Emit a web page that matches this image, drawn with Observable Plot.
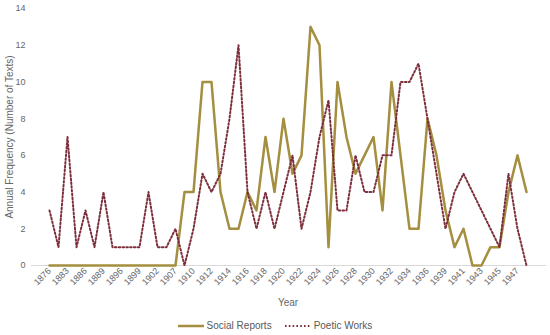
<!DOCTYPE html>
<html>
<head>
<meta charset="utf-8">
<script src="https://cdn.jsdelivr.net/npm/d3@7"></script>
<script src="https://cdn.jsdelivr.net/npm/@observablehq/plot@0.6"></script>
<style>
  html, body { margin: 0; padding: 0; background: #fff; }
  #chart { width: 550px; }
  .legend { display: flex; justify-content: center; align-items: center; gap: 13px;
    font-family: "Liberation Sans", Arial, sans-serif; font-size: 10px; color: #595959;
    height: 23px; padding-top: 2px; }
  .legend .item { display: flex; align-items: center; gap: 3px; }
</style>
</head>
<body>
<div id="chart"></div>
<script>
const years = [1876, 1880, 1883, 1884, 1886, 1887, 1889, 1893, 1896, 1897, 1899, 1900, 1902, 1905, 1907, 1909,
  1910, 1911, 1912, 1913, 1914, 1915, 1916, 1917, 1918, 1919, 1920, 1921, 1922, 1923, 1924, 1925, 1926, 1927,
  1928, 1929, 1930, 1931, 1932, 1933, 1934, 1935, 1936, 1937, 1939, 1940, 1941, 1942, 1943, 1944, 1945, 1946, 1947, 1948];
const socialReports = [0, 0, 0, 0, 0, 0, 0, 0, 0, 0, 0, 0, 0, 0, 0, 4,
  4, 10, 10, 4, 2, 2, 4, 3, 7, 4, 8, 5, 6, 13, 12, 1, 10, 7,
  5, 6, 7, 3, 10, 6, 2, 2, 8, 6, 3, 1, 2, 0, 0, 1, 1, 4, 6, 4];
const poeticWorks = [3, 1, 7, 1, 3, 1, 4, 1, 1, 1, 1, 4, 1, 1, 2, 0,
  2, 5, 4, 5, 8, 12, 4, 2, 4, 2, 4, 6, 2, 4, 7, 9, 3, 3,
  6, 4, 4, 6, 6, 10, 10, 11, 8, 5, 2, 4, 5, 4, 3, 2, 1, 5, 2, 0];
const seriesNames = ["Social Reports", "Poetic Works"];
const seriesColors = ["#a48e3f", "#7d2f3c"];
const yTicks = [0, 2, 4, 6, 8, 10, 12, 14];
const yLabel = "Annual Frequency (Number of Texts)";
const xLabel = "Year";

const yearLabels = years.map(String);
const xTicks = yearLabels.filter((d, i) => i % 2 === 0);
const social = yearLabels.map((y, i) => ({year: y, value: socialReports[i], series: seriesNames[0]}));
const poetic = yearLabels.map((y, i) => ({year: y, value: poeticWorks[i], series: seriesNames[1]}));
const dash = "1.6,2.2";

const chart = Plot.plot({
  width: 550,
  height: 312,
  marginLeft: 35,
  marginRight: 10,
  marginTop: 8,
  marginBottom: 47,
  style: {fontFamily: "Liberation Sans, Arial, sans-serif", fontSize: "9px", color: "#666", background: "#fff"},
  x: {type: "point", domain: yearLabels, padding: 0},
  y: {domain: [0, 14]},
  marks: [
    Plot.ruleY([0], {stroke: "#d9d9d9", strokeWidth: 1, insetLeft: -4, insetRight: -6}),
    Plot.axisY({ticks: yTicks, tickSize: 0, tickPadding: 10, label: yLabel, labelAnchor: "center", labelArrow: "none", labelOffset: 30}),
    Plot.axisX({ticks: xTicks, tickSize: 0, tickPadding: 4, tickRotate: -45, label: xLabel, labelAnchor: "center", labelArrow: "none", labelOffset: 40}),
    Plot.line(social, {x: "year", y: "value", stroke: seriesColors[0], strokeWidth: 2.5, curve: "linear"}),
    Plot.line(poetic, {x: "year", y: "value", stroke: seriesColors[1], strokeWidth: 2, strokeDasharray: dash, curve: "linear"})
  ]
});
document.getElementById("chart").appendChild(chart);
d3.select(chart).selectAll("text").filter(function() { return this.textContent === yLabel || this.textContent === xLabel; })
  .style("font-size", "10px");

const legend = d3.select("body").append("div").attr("class", "legend");
seriesNames.forEach((name, i) => {
  const item = legend.append("div").attr("class", "item");
  const svg = item.append("svg").attr("width", 26).attr("height", 6);
  svg.append("line").attr("x1", 0).attr("x2", 26).attr("y1", 3).attr("y2", 3)
    .attr("stroke", seriesColors[i]).attr("stroke-width", i === 0 ? 2.5 : 2)
    .attr("stroke-dasharray", i === 0 ? null : dash);
  item.append("span").text(name);
});
</script>
</body>
</html>
